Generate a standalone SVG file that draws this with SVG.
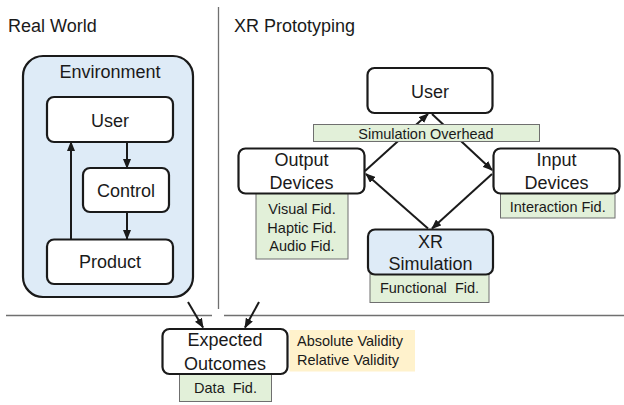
<svg xmlns="http://www.w3.org/2000/svg" width="624" height="405" viewBox="0 0 624 405">
  <style>
    text { font-family: "Liberation Sans", Arial, sans-serif; fill: #1a1a1a; }
    .title { font-size: 18px; }
    .lbl { font-size: 18px; text-anchor: middle; }
    .small { font-size: 14.5px; text-anchor: middle; }
    .box { fill: #ffffff; stroke: #1a1a1a; stroke-width: 2.2; }
    .sim { fill: #deebf7; stroke: #1a1a1a; stroke-width: 2.2; }
    .fid { fill: #e2f0d9; stroke: #6f6f6f; stroke-width: 1; }
    .valid { fill: #fff2cc; stroke: none; }
    .divider { stroke: #707070; stroke-width: 1.3; fill: none; }
    .conn { stroke: #1a1a1a; stroke-width: 2; fill: none; marker-end: url(#arrow); }
  </style>
  <defs>
    <marker id="arrow" markerUnits="userSpaceOnUse" markerWidth="10" markerHeight="8" refX="9" refY="4" orient="auto">
      <path d="M0,0 L10,4 L0,8 z" fill="#1a1a1a"/>
    </marker>
  </defs>

  <!-- section titles and dividers -->
  <text class="title" x="8" y="32">Real World</text>
  <text class="title" x="234" y="32">XR Prototyping</text>
  <line class="divider" x1="218.5" y1="7" x2="218.5" y2="309"/>
  <line class="divider" x1="6" y1="315.5" x2="212" y2="315.5"/>
  <line class="divider" x1="224" y1="315.5" x2="624" y2="315.5"/>

  <!-- real-world environment container -->
  <g id="environment">
    <rect class="sim" x="23" y="56" width="170" height="241" rx="20"/>
    <text class="lbl" x="110" y="78">Environment</text>
  </g>

  <!-- connectors -->
  <g id="connectors">
    <line class="conn" x1="127" y1="142" x2="127" y2="168"/>
    <line class="conn" x1="127" y1="212" x2="127" y2="239"/>
    <line class="conn" x1="71" y1="239.5" x2="71" y2="142"/>
    <line class="conn" x1="365" y1="171" x2="428" y2="114"/>
    <line class="conn" x1="432" y1="114" x2="492" y2="170"/>
    <line class="conn" x1="492" y1="174" x2="432" y2="228.5"/>
    <line class="conn" x1="428" y1="228.5" x2="366" y2="174"/>
    <line class="conn" x1="188" y1="302" x2="203" y2="327.5"/>
    <line class="conn" x1="259" y1="302" x2="245" y2="327.5"/>
  </g>

  <!-- real-world nodes -->
  <g id="rw-user">
    <rect class="box" x="47" y="97" width="126" height="45" rx="7"/>
    <text class="lbl" x="110" y="127">User</text>
  </g>
  <g id="rw-control">
    <rect class="box" x="83" y="168" width="86" height="44" rx="7"/>
    <text class="lbl" x="126" y="197">Control</text>
  </g>
  <g id="rw-product">
    <rect class="box" x="47" y="239.5" width="126" height="44.5" rx="7"/>
    <text class="lbl" x="110" y="268">Product</text>
  </g>

  <!-- XR prototyping nodes -->
  <g id="xr-user">
    <rect class="box" x="367.5" y="68" width="125" height="45" rx="7"/>
    <text class="lbl" x="430" y="98">User</text>
  </g>
  <g id="sim-overhead">
    <rect class="fid" x="313.5" y="124.5" width="226" height="17"/>
    <text class="small" x="426" y="139">Simulation Overhead</text>
  </g>
  <g id="output-devices">
    <rect class="fid" x="256" y="193" width="92" height="66"/>
    <text class="small" x="302" y="213.5">Visual Fid.</text>
    <text class="small" x="302" y="232.5">Haptic Fid.</text>
    <text class="small" x="302" y="251">Audio Fid.</text>
    <rect class="box" x="238.5" y="148.5" width="126" height="45" rx="7"/>
    <text class="lbl" x="301.5" y="166">Output</text>
    <text class="lbl" x="301.5" y="188.5">Devices</text>
  </g>
  <g id="input-devices">
    <rect class="fid" x="500.5" y="193" width="114.5" height="25"/>
    <text class="small" x="557.75" y="211.5">Interaction Fid.</text>
    <rect class="box" x="493.5" y="148.5" width="126" height="45" rx="7"/>
    <text class="lbl" x="556.5" y="166">Input</text>
    <text class="lbl" x="556.5" y="188.5">Devices</text>
  </g>
  <g id="xr-simulation">
    <rect class="fid" x="370" y="274" width="119" height="28.5"/>
    <text class="small" x="429.5" y="293" xml:space="preserve">Functional  Fid.</text>
    <rect class="sim" x="368" y="229.5" width="125" height="45" rx="7"/>
    <text class="lbl" x="430.5" y="247.5">XR</text>
    <text class="lbl" x="430.5" y="270">Simulation</text>
  </g>

  <!-- outcome node -->
  <g id="expected-outcomes">
    <rect class="fid" x="179.5" y="374" width="92" height="27.5"/>
    <text class="small" x="225.5" y="393" xml:space="preserve">Data  Fid.</text>
    <rect class="box" x="162.5" y="329" width="125" height="45" rx="7"/>
    <text class="lbl" x="225" y="346">Expected</text>
    <text class="lbl" x="225" y="370">Outcomes</text>
  </g>
  <g id="validity">
    <rect class="valid" x="289.5" y="330" width="125.5" height="41.5"/>
    <text class="small" x="297" y="345.5" style="text-anchor:start">Absolute Validity</text>
    <text class="small" x="297" y="365" style="text-anchor:start">Relative Validity</text>
  </g>
</svg>
